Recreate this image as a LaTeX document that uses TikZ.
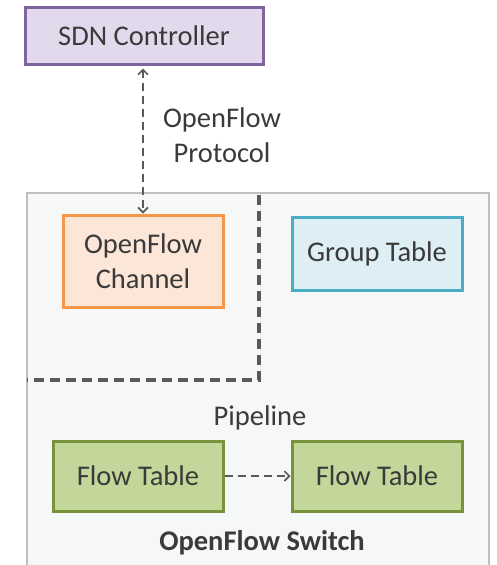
\documentclass[tikz,border=0pt]{standalone}
\usepackage{fontspec}
\setmainfont{Carlito}
\usetikzlibrary{arrows.meta}
\definecolor{txt}{HTML}{3A3A3A}
\definecolor{ctrlfill}{HTML}{E2DAEC}
\definecolor{ctrldraw}{HTML}{8064A2}
\definecolor{chfill}{HTML}{FCE6D8}
\definecolor{chdraw}{HTML}{F79646}
\definecolor{grfill}{HTML}{DDEEF5}
\definecolor{grdraw}{HTML}{4BACC6}
\definecolor{ftfill}{HTML}{C4D79B}
\definecolor{ftdraw}{HTML}{77933C}
\definecolor{swfill}{HTML}{F6F7F7}
\definecolor{swdraw}{HTML}{BFBFBF}
\definecolor{dash}{HTML}{595959}
\tikzset{
  lbl/.style={font=\fontsize{28.5}{35}\selectfont, text=txt, align=center},
  boxbase/.style={lbl, rectangle, line width=3pt, inner sep=0pt},
  ctrlbox/.style={boxbase, fill=ctrlfill, draw=ctrldraw, minimum width=238pt, minimum height=57pt},
  chbox/.style={boxbase, fill=chfill, draw=chdraw, minimum width=160pt, minimum height=92pt},
  grbox/.style={boxbase, fill=grfill, draw=grdraw, minimum width=170pt, minimum height=73pt},
  ftbox/.style={boxbase, fill=ftfill, draw=ftdraw, minimum width=170pt, minimum height=70pt},
  tip/.style={-{Straight Barb[length=5pt,width=10pt,line width=1.6pt]}},
  conn/.style={draw=dash, line width=1.8pt, dash pattern=on 8pt off 5pt},
  divider/.style={draw=dash, line width=3.5pt, dash pattern=on 10pt off 6pt}
}
\begin{document}
\begin{tikzpicture}[x=1pt,y=-1pt]
\clip (0,0) rectangle (496,565);
\fill[white] (0,0) rectangle (496,565);
\draw[fill=swfill, draw=swdraw, line width=2.5pt] (27,193) rectangle (489,580);
\coordinate (dtop) at (259,195);
\coordinate (dcorner) at (259,380);
\coordinate (dleft) at (27,380);
\draw[divider] (dtop) -- (dcorner) -- (dleft);
\node[ctrlbox] (ctrl) at (144,35.5) {SDN Controller};
\node[chbox] (chan) at (143,261) {OpenFlow\\Channel};
\node[grbox] (group) at (377,253.5) {Group Table};
\node[ftbox] (ft1) at (138,476) {Flow Table};
\node[ftbox] (ft2) at (377,476) {Flow Table};
\node[lbl] (proto) at (222,135.5) {OpenFlow\\Protocol};
\node[lbl] (pipe) at (260,418) {Pipeline};
\node[lbl, font=\fontsize{28.5}{35}\selectfont\bfseries] (sw) at (262,543) {OpenFlow Switch};
\draw[conn, {Straight Barb[length=5pt,width=10pt,line width=1.6pt]}-{Straight Barb[length=5pt,width=10pt,line width=1.6pt]}] (ctrl.south -| chan.north) ++(0,3) -- (chan.north);
\draw[conn, tip] (ft1.east) -- (ft2.west);
\end{tikzpicture}
\end{document}
